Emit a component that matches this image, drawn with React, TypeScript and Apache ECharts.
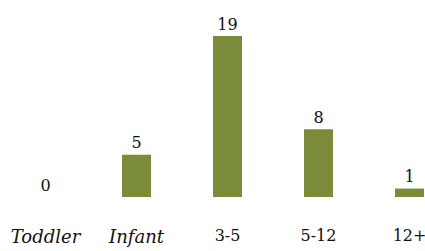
import React, { useEffect, useRef } from "react";
import * as echarts from "echarts";

const categories = ["Toddler", "Infant", "3-5", "5-12", "12+"];
const counts = [0, 5, 19, 8, 1];
const italicCats = ["Toddler", "Infant"];

const FONT = "DejaVu Serif";

export default function App() {
  const ref = useRef<HTMLDivElement>(null);
  useEffect(() => {
    const chart = echarts.init(ref.current!, undefined, { renderer: "svg" });
    chart.setOption({
      animation: false,
      textStyle: { fontFamily: FONT },
      grid: { left: 0, right: 0, top: 36, bottom: 54 },
      xAxis: {
        type: "category",
        data: categories,
        axisLine: { show: false },
        axisTick: { show: false },
        axisLabel: {
          interval: 0,
          margin: 30,
          fontFamily: FONT,
          fontSize: 18,
          color: "#111",
          formatter: (v: string) =>
            italicCats.includes(v) ? `{i|${v}}` : `{n|${v}}`,
          rich: {
            i: { fontStyle: "italic", fontFamily: FONT, fontSize: 18, color: "#111" },
            n: { fontFamily: FONT, fontSize: 16, color: "#111" },
          },
        },
      },
      yAxis: { type: "value", min: 0, max: 19, show: false, splitLine: { show: false } },
      series: [
        {
          type: "bar",
          data: counts,
          barWidth: 29,
          itemStyle: { color: "#7a8c3a" },
          label: {
            show: true,
            position: "top",
            distance: 4,
            fontFamily: FONT,
            fontSize: 16,
            color: "#111",
          },
        },
      ],
    });
    return () => chart.dispose();
  }, []);
  return (
    <div
      style={{ position: "absolute", left: 0, top: 0, width: 425, height: 251, overflow: "hidden", background: "#fff" }}
    >
      <div ref={ref} style={{ width: 455, height: 251 }} />
    </div>
  );
}
